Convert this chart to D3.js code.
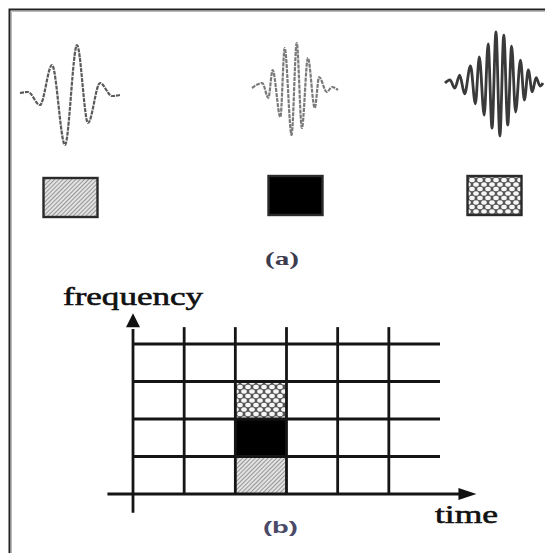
<!DOCTYPE html>
<html>
<head>
<meta charset="utf-8">
<script src="https://cdn.jsdelivr.net/npm/d3@7"></script>
<style>
  body { margin: 0; background: #fff; }
  svg { display: block; }
</style>
</head>
<body>
<script>
// atoms shown in panel (a), same order as the tiles they fill in panel (b)
const atoms = ['diagonal', 'solid', 'mesh'];

// wavelet extrema: [time 0..100, amplitude -1..1]
const waveDiagonal = [[0, 0], [8, 0.02], [20, -0.24], [32, 0.56], [45, -1.04], [57, 0.96],
    [68, -0.6], [80, 0.2], [92, -0.06], [100, -0.04]];
const waveSolid = [[0, 0], [12, 0.1], [19, -0.2], [24, 0.36], [33, -0.58], [38, 0.8],
    [46, -0.94], [52, 0.9], [58, -0.8], [65, 0.6], [73, -0.4], [78, 0.22], [87, -0.08],
    [93, 0.02], [100, -0.04]];
const waveMesh = [[0, 0.02], [5, 0.08], [10, -0.08], [15, 0.17], [20, -0.19], [26, 0.35],
    [31, -0.38], [35, 0.52], [40, -0.6], [44, 0.77], [48, -0.85], [52, 1.0], [56, -1.0],
    [60, 0.94], [64, -0.79], [68, 0.73], [72, -0.54], [77, 0.46], [81, -0.31], [85, 0.27],
    [89, -0.15], [93, 0.12], [97, -0.04], [100, 0.02]];

// time-frequency plane of panel (b)
const timeLines = [1, 2, 3, 4, 5];
const freqLines = [1, 2, 3, 4];
const tiles = [
    { time: 2, freq: 0, atom: 'diagonal' },
    { time: 2, freq: 1, atom: 'solid' },
    { time: 2, freq: 2, atom: 'mesh' }
];
const panelLabels = ['(a)', '(b)'];
const axisTitles = ['frequency', 'time'];

const width = 545;
const height = 553;

const svg = d3.select('body')
    .append('svg')
    .attr('width', width)
    .attr('height', height);

// fill patterns
const defs = svg.append('defs');

const diag = defs.append('pattern')
    .attr('id', 'fill-diagonal')
    .attr('patternUnits', 'userSpaceOnUse')
    .attr('width', 3)
    .attr('height', 3)
    .attr('patternTransform', 'rotate(45)');
diag.append('rect').attr('width', 3).attr('height', 3).attr('fill', '#e2e2e2');
diag.append('line')
    .attr('x1', 0).attr('y1', 0).attr('x2', 0).attr('y2', 3)
    .attr('stroke', '#777').attr('stroke-width', 1.4);

const mesh = defs.append('pattern')
    .attr('id', 'fill-mesh')
    .attr('patternUnits', 'userSpaceOnUse')
    .attr('width', 8)
    .attr('height', 9);
mesh.append('rect').attr('width', 8).attr('height', 9).attr('fill', '#555');
mesh.selectAll('ellipse')
    .data([[0, 0], [8, 0], [4, 4.5], [0, 9], [8, 9]])
    .join('ellipse')
    .attr('cx', d => d[0])
    .attr('cy', d => d[1])
    .attr('rx', 2.8)
    .attr('ry', 2.2)
    .attr('fill', '#f6f6f6');

const fillFor = {
    diagonal: 'url(#fill-diagonal)',
    solid: '#000',
    mesh: 'url(#fill-mesh)'
};

// frame (only left and top edges are in the picture)
svg.append('path')
    .attr('d', `M9.5,${height} V9.5 H${width}`)
    .attr('fill', 'none')
    .attr('stroke', '#222')
    .attr('stroke-width', 2);
svg.append('path')
    .attr('d', `M11.5,${height} V11.5 H${width}`)
    .attr('fill', 'none')
    .attr('stroke', '#bbb')
    .attr('stroke-width', 1);

// ---- panel (a) ----
const atomCenter = d3.scaleOrdinal().domain(atoms).range([70, 295, 494]);
const waveWidth = d3.scaleOrdinal().domain(atoms).range([100, 86, 98]);
const waveMid = d3.scaleOrdinal().domain(atoms).range([93, 88, 84]);
const waveAmp = d3.scaleOrdinal().domain(atoms).range([50, 50, 52]);
const waveColor = d3.scaleOrdinal().domain(atoms).range(['#5a5a5a', '#7a7a7a', '#3a3a3a']);
const waves = { diagonal: waveDiagonal, solid: waveSolid, mesh: waveMesh };

const waveG = svg.append('g');
atoms.forEach(a => {
    const wx = d3.scaleLinear()
        .domain([0, 100])
        .range([atomCenter(a) - waveWidth(a) / 2, atomCenter(a) + waveWidth(a) / 2]);
    const wy = d3.scaleLinear()
        .domain([-1, 1])
        .range([waveMid(a) + waveAmp(a), waveMid(a) - waveAmp(a)]);
    const line = d3.line()
        .x(d => wx(d[0]))
        .y(d => wy(d[1]))
        .curve(d3.curveMonotoneX);
    waveG.append('path')
        .attr('d', line(waves[a]))
        .attr('fill', 'none')
        .attr('stroke', waveColor(a))
        .attr('stroke-width', a === 'mesh' ? 2.8 : 2.2)
        .attr('stroke-dasharray', a === 'mesh' ? null : '4,1')
        .attr('stroke-linejoin', 'round');
});

const swatchW = 54;
const swatchH = 39;
svg.append('g')
    .selectAll('rect')
    .data(atoms)
    .join('rect')
    .attr('x', d => atomCenter(d) - swatchW / 2 + 0.5)
    .attr('y', d => (d === 'diagonal' ? 178 : 176))
    .attr('width', swatchW)
    .attr('height', swatchH)
    .attr('fill', d => fillFor[d])
    .attr('stroke', '#2a2a2a')
    .attr('stroke-width', 2.4);

svg.append('text')
    .attr('x', 265)
    .attr('y', 265)
    .attr('textLength', 34)
    .attr('lengthAdjust', 'spacingAndGlyphs')
    .attr('font-family', 'Liberation Serif')
    .attr('font-weight', 'bold')
    .attr('font-size', 19)
    .attr('fill', '#3c3c4e')
    .text(panelLabels[0]);

// ---- panel (b) ----
const x = d3.scaleLinear().domain([0, 6]).range([133, 440]);
const y = d3.scaleLinear().domain([0, 4]).range([494, 344]);

svg.append('g')
    .selectAll('rect')
    .data(tiles)
    .join('rect')
    .attr('x', d => x(d.time))
    .attr('y', d => y(d.freq + 1))
    .attr('width', d => x(d.time + 1) - x(d.time))
    .attr('height', d => y(d.freq) - y(d.freq + 1))
    .attr('fill', d => fillFor[d.atom]);

const gridG = svg.append('g')
    .attr('stroke', '#151515')
    .attr('stroke-width', 2.8);

gridG.selectAll('.vline')
    .data(timeLines)
    .join('line')
    .attr('class', 'vline')
    .attr('x1', d => x(d))
    .attr('x2', d => x(d))
    .attr('y1', y(0))
    .attr('y2', y(4.45));

gridG.selectAll('.hline')
    .data(freqLines)
    .join('line')
    .attr('class', 'hline')
    .attr('x1', x(0))
    .attr('x2', x(6))
    .attr('y1', d => y(d))
    .attr('y2', d => y(d));

// axes with arrow heads
gridG.append('line')
    .attr('x1', x(-0.5)).attr('x2', x(6.4))
    .attr('y1', y(0)).attr('y2', y(0));
gridG.append('line')
    .attr('x1', x(0)).attr('x2', x(0))
    .attr('y1', y(-0.5)).attr('y2', y(4.4));

svg.append('path')
    .attr('d', `M${x(6.4) - 2},${y(0) - 6} L${x(6.4) + 16},${y(0)} L${x(6.4) - 2},${y(0) + 6} Z`)
    .attr('fill', '#111');
svg.append('path')
    .attr('d', `M${x(0) - 7},${y(4.45)} L${x(0)},${y(4.45) - 14} L${x(0) + 7},${y(4.45)} Z`)
    .attr('fill', '#111');

svg.append('text')
    .attr('x', 63)
    .attr('y', 305)
    .attr('textLength', 140)
    .attr('lengthAdjust', 'spacingAndGlyphs')
    .attr('font-family', 'Liberation Serif')
    .attr('font-size', 26)
    .attr('fill', '#111')
    .attr('stroke', '#111')
    .attr('stroke-width', 0.6)
    .text(axisTitles[0]);

svg.append('text')
    .attr('x', 435)
    .attr('y', 523)
    .attr('textLength', 63)
    .attr('lengthAdjust', 'spacingAndGlyphs')
    .attr('font-family', 'Liberation Serif')
    .attr('font-size', 26)
    .attr('fill', '#111')
    .attr('stroke', '#111')
    .attr('stroke-width', 0.6)
    .text(axisTitles[1]);

svg.append('text')
    .attr('x', 263)
    .attr('y', 533)
    .attr('textLength', 35)
    .attr('lengthAdjust', 'spacingAndGlyphs')
    .attr('font-family', 'Liberation Sans')
    .attr('font-weight', 'bold')
    .attr('font-size', 17)
    .attr('fill', '#4a4a68')
    .text(panelLabels[1]);
</script>
</body>
</html>
